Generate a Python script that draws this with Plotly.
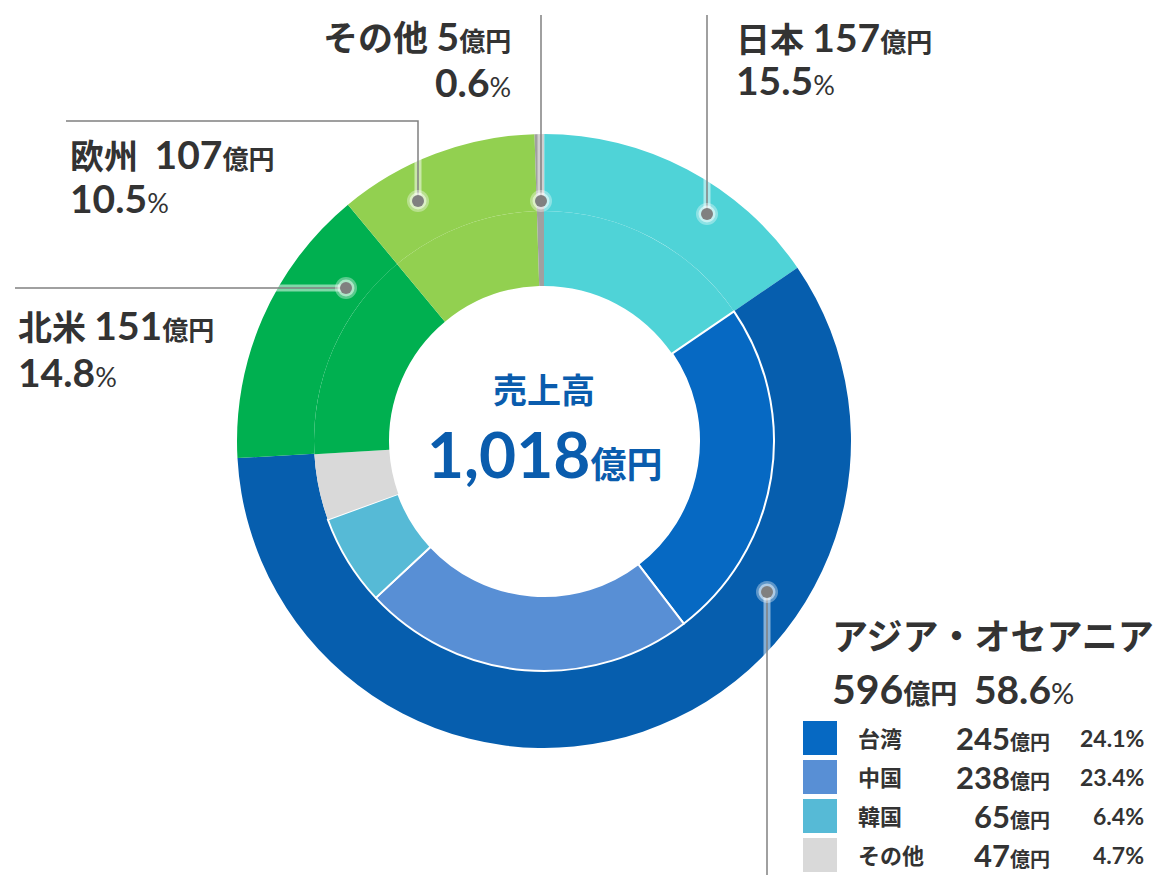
import plotly.graph_objects as go

# --- données -------------------------------------------------------------
regions = ["日本", "アジア・オセアニア", "北米", "欧州", "その他"]
region_values = [157, 596, 151, 107, 5]
region_pct = [15.5, 58.6, 14.8, 10.5, 0.6]
region_colors = ["#4FD3D7", "#065EAE", "#00B050", "#92D050", "#A0A0A0"]

asia_names = ["台湾", "中国", "韓国", "その他"]
asia_values = [245, 238, 65, 47]
asia_pct = [24.1, 23.4, 6.4, 4.7]
asia_colors = ["#0669C3", "#588FD5", "#56BAD6", "#D9D9D9"]

total_label = "1,018"

# --- géométrie (pixels) ---------------------------------------------------
W, H = 1171, 875
CX, CY = 544, 441
R_OUT, R_MID, R_IN = 307, 230, 155
TXT = "#333333"
LEAD = "#808080"
FONT = "Lato, Noto Sans CJK JP"


def px(x):
    return x / W


def py(y):
    return 1 - y / H


def dom(r):
    return dict(x=[px(CX - r), px(CX + r)], y=[py(CY + r), py(CY - r)])


# anneau intérieur : régions hors Asie + détail Asie
inner_labels = [regions[0]] + asia_names + regions[2:]
inner_values = [region_values[0]] + asia_values + region_values[2:]
inner_colors = [region_colors[0]] + asia_colors + region_colors[2:]
inner_lw = [0] + [2, 2, 2, 0] + [0, 0, 0]

fig = go.Figure()
fig.add_trace(go.Pie(
    labels=regions, values=region_values, sort=False,
    direction="clockwise", rotation=0, hole=R_MID / R_OUT,
    marker=dict(colors=region_colors, line=dict(width=0)),
    textinfo="none", hoverinfo="skip", domain=dom(R_OUT),
))
fig.add_trace(go.Pie(
    labels=[f"{l}_{i}" for i, l in enumerate(inner_labels)],
    values=inner_values, sort=False,
    direction="clockwise", rotation=0, hole=R_IN / R_MID,
    marker=dict(colors=inner_colors, line=dict(width=inner_lw, color="white")),
    textinfo="none", hoverinfo="skip", domain=dom(R_MID),
))

anns = []
shapes = []


def ann(text, x, y, anchor="left", size=34, color=TXT, height=None):
    a = dict(
        text=text, x=px(x), y=py(y), xref="paper", yref="paper",
        xanchor=anchor, yanchor="middle", showarrow=False,
        font=dict(family=FONT, size=size, color=color, weight=700),
    )
    if height:
        a.update(height=height, valign="middle")
    anns.append(a)


def num(v, size=39):
    return f"<span style='font-size:{size}px'>{v}</span>"


def oku(size=26):
    return f"<span style='font-size:{size}px'>億円</span>"


def pct(v, size=39, psize=27):
    return (f"<span style='font-size:{size}px'>{v}</span>"
            f"<span style='font-size:{psize}px;font-weight:400'>%</span>")


def leader(points):
    xs = [p[0] for p in points]
    ys = [p[1] for p in points]
    path = "M " + " L ".join(f"{px(x)},{py(y)}" for x, y in zip(xs, ys))
    shapes.append(dict(type="path", path=path, xref="paper", yref="paper",
                       line=dict(color="rgba(255,255,255,0.5)", width=7)))
    shapes.append(dict(type="path", path=path, xref="paper", yref="paper",
                       line=dict(color=LEAD, width=1.5)))
    dx, dy = points[0]
    for r, c in [(11, "rgba(255,255,255,0.35)"), (8.5, "rgba(255,255,255,0.5)"), (6, LEAD)]:
        shapes.append(dict(type="circle", xref="paper", yref="paper",
                           x0=px(dx - r), x1=px(dx + r),
                           y0=py(dy + r), y1=py(dy - r),
                           fillcolor=c, line=dict(width=0)))


# lignes de rappel
leader([(541, 201), (541, 15)])
leader([(707, 214), (707, 15)])
leader([(418, 201), (418, 121), (66, 121)])
leader([(346, 288), (15, 288)])
leader([(767, 592), (767, 875)])

# étiquettes régions
ann(f"{regions[4]} {num(region_values[4])}{oku()}", 513, 36, "right", size=35)
ann(pct(region_pct[4]), 513, 82, "right")
ann(f"{regions[0]} {num(region_values[0])}{oku()}", 734, 37)
ann(pct(region_pct[0]), 734, 80)
ann(f"{regions[3]}  {num(region_values[3])}{oku()}", 68, 154)
ann(pct(region_pct[3]), 68, 198)
ann(f"{regions[2]} {num(region_values[2])}{oku()}", 16, 325)
ann(pct(region_pct[2]), 16, 372)
ann("アジア・オセアニア", 830, 636, size=36)
ann(f"{num(region_values[1], 41)}{oku(27)}  {pct(region_pct[1], 39, 29)}", 830, 688)

# tableau détail Asie
row_y = [738, 777, 816, 855]
for name, v, p, c, y in zip(asia_names, asia_values, asia_pct, asia_colors, row_y):
    shapes.append(dict(type="rect", xref="paper", yref="paper",
                       x0=px(803), x1=px(837), y0=py(y + 17), y1=py(y - 17),
                       fillcolor=c, line=dict(width=0)))
    ann(name, 856, y, size=22, height=30)
    ann(f"{num(v, 31)}{oku(20)}", 1052, y, "right", size=22, height=30)
    ann(f"<span style='font-size:23px'>{p}%</span>", 1146, y, "right", size=22, height=30)

# centre
blue = "#0A5CAD"
ann("売上高", CX, 389, "center", size=34, color=blue)
ann(f"{num(total_label, 64)}{oku(36)}", CX, 453, "center", size=36, color=blue)

fig.update_layout(
    width=W, height=H, margin=dict(l=0, r=0, t=0, b=0),
    paper_bgcolor="white", plot_bgcolor="white",
    showlegend=False, annotations=anns, shapes=shapes,
)

fig.write_html(
    "out.html",
    config={"displayModeBar": False},
    post_script="document.body.style.margin='0';document.body.style.overflow='hidden';",
)
